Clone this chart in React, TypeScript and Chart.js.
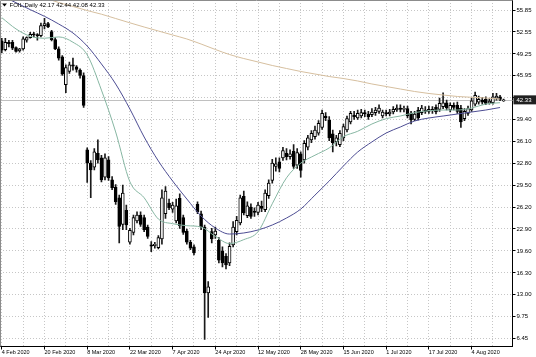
import React, { useEffect, useRef } from 'react';
import { Chart, registerables } from 'chart.js';

Chart.register(...registerables);

// ---------- data ----------
const SYMBOL = 'FOIL,Daily';
const SLOT_COUNT = 144; // bar slots across the plot (last few are empty)
const LABEL_EVERY = 12;
const GRID_EVERY = 6;
const dateLabels = [
  '4 Feb 2020', '20 Feb 2020', '8 Mar 2020', '22 Mar 2020', '7 Apr 2020', '24 Apr 2020',
  '12 May 2020', '28 May 2020', '15 Jun 2020', '1 Jul 2020', '17 Jul 2020', '4 Aug 2020',
];

const opens = [
  51.2, 49.9, 51.0, 51.0, 50.2, 49.7, 50.0, 51.3, 51.7, 52.2, 52.1, 52.0, 53.5, 53.8, 52.6, 51.4, 50.0, 48.8, 44.6, 46.6,
  47.6, 47.3, 46.8, 46.0, 34.8, 32.8, 32.2, 34.3, 33.6, 30.7, 33.3, 30.3, 29.2, 27.6, 23.6, 25.7, 20.9, 22.4, 24.1, 25.0,
  24.6, 23.2, 20.5, 20.4, 20.1, 21.4, 25.2, 26.8, 25.9, 24.1, 27.5, 24.6, 22.6, 20.9, 20.2, 26.6, 25.2, 23.2, 13.3, 22.5,
  22.0, 21.2, 19.6, 18.8, 17.8, 20.5, 22.5, 23.8, 27.8, 24.9, 26.2, 25.6, 25.4, 26.3, 25.8, 27.9, 30.2, 32.3, 33.0, 33.6,
  34.3, 33.8, 34.6, 32.5, 34.2, 33.3, 35.2, 36.3, 36.8, 37.3, 38.2, 39.9, 39.3, 37.2, 36.0, 35.6, 36.6, 37.8, 39.0, 40.0,
  39.6, 39.9, 40.4, 40.2, 40.1, 40.4, 40.6, 39.9, 40.4, 40.2, 40.5, 40.8, 41.1, 40.9, 41.0, 40.3, 39.4, 40.8, 40.4, 40.8,
  40.6, 40.9, 41.2, 40.9, 41.3, 41.9, 40.8, 41.5, 41.5, 41.1, 39.5, 40.3, 40.8, 41.7, 42.0, 42.3, 42.4, 41.9, 41.9, 42.6,
  42.8, 42.17,
];
const highs = [
  51.6, 51.6, 51.3, 51.3, 50.3, 50.1, 51.8, 51.8, 52.5, 52.5, 52.3, 53.9, 54.6, 54.0, 52.8, 51.7, 50.3, 49.0, 47.6, 48.0,
  48.6, 47.5, 47.0, 46.4, 35.1, 33.2, 35.0, 36.3, 34.0, 34.2, 33.8, 30.8, 29.6, 28.0, 29.5, 26.5, 23.0, 25.0, 25.5, 25.5,
  25.0, 23.5, 21.0, 20.9, 21.9, 28.8, 29.3, 27.4, 26.9, 27.4, 28.2, 25.0, 22.9, 21.2, 20.5, 27.0, 25.6, 23.5, 15.0, 23.0,
  23.2, 21.6, 20.2, 19.2, 20.8, 24.0, 24.8, 28.0, 28.6, 27.0, 26.7, 26.1, 26.9, 27.1, 28.8, 30.3, 33.4, 33.6, 33.6, 35.2,
  35.0, 34.8, 35.6, 35.0, 34.5, 36.2, 37.0, 37.7, 38.4, 39.2, 40.8, 40.4, 39.8, 37.8, 37.0, 37.7, 38.7, 39.9, 40.6, 40.6,
  40.8, 40.9, 40.8, 40.6, 41.0, 41.2, 41.6, 40.8, 40.8, 40.9, 41.3, 41.6, 41.6, 41.4, 41.4, 40.6, 40.6, 41.2, 41.5, 41.3,
  41.4, 41.3, 41.6, 42.6, 43.4, 42.3, 41.9, 41.9, 42.0, 41.5, 41.0, 41.4, 42.6, 43.5, 42.9, 42.7, 42.8, 42.5, 43.3, 43.3,
  43.0, 42.44,
];
const lows = [
  49.4, 49.7, 50.3, 49.9, 49.5, 49.5, 49.8, 51.0, 51.6, 51.8, 51.3, 51.8, 53.0, 53.2, 51.2, 49.9, 48.3, 46.0, 43.4, 46.3,
  46.8, 46.5, 45.6, 41.2, 29.9, 27.6, 31.8, 32.8, 30.0, 30.3, 30.2, 28.8, 26.6, 20.8, 22.8, 22.8, 20.6, 22.0, 23.8, 23.3,
  22.5, 21.5, 19.5, 20.0, 19.9, 20.6, 24.5, 25.8, 25.4, 23.8, 23.0, 22.1, 20.6, 19.8, 19.0, 25.2, 22.8, 6.3, 9.6, 20.8,
  21.5, 17.8, 17.2, 16.9, 17.4, 20.2, 22.0, 23.5, 25.0, 24.6, 24.5, 24.8, 25.0, 25.5, 25.5, 27.5, 29.8, 31.6, 31.5, 33.2,
  33.3, 33.4, 32.0, 32.0, 30.7, 32.8, 34.8, 35.9, 36.4, 37.0, 37.9, 39.2, 36.2, 34.5, 35.4, 35.3, 36.2, 37.5, 38.7, 39.4,
  39.4, 39.6, 39.8, 39.4, 39.8, 40.0, 40.3, 39.6, 39.9, 39.9, 40.2, 40.6, 40.5, 40.5, 39.6, 38.7, 39.2, 39.3, 40.1, 40.3,
  40.3, 40.3, 40.2, 40.6, 41.0, 40.8, 40.5, 40.8, 40.3, 38.2, 39.2, 40.0, 40.6, 41.4, 41.7, 41.7, 41.6, 41.7, 41.7, 42.3,
  42.2, 42.08,
];
const closes = [
  49.8, 51.0, 50.8, 50.1, 49.6, 50.0, 51.5, 51.7, 52.2, 52.1, 52.0, 53.5, 53.8, 53.3, 51.4, 50.0, 48.6, 46.2, 47.2, 47.6,
  47.4, 46.9, 46.0, 41.5, 32.8, 31.8, 34.5, 33.3, 30.3, 33.6, 30.6, 29.1, 27.0, 23.3, 28.3, 23.5, 22.7, 24.6, 25.0, 23.6,
  22.8, 21.8, 20.3, 20.6, 21.6, 27.6, 28.6, 26.1, 26.5, 26.4, 23.4, 22.4, 20.9, 20.0, 19.3, 25.5, 23.2, 13.3, 14.2, 21.4,
  22.6, 18.2, 17.8, 17.5, 20.3, 23.2, 24.2, 27.6, 25.3, 26.4, 24.8, 25.4, 26.5, 26.0, 28.3, 29.8, 32.8, 32.7, 32.0, 34.7,
  33.8, 34.2, 32.3, 34.4, 31.7, 35.8, 36.6, 37.3, 37.8, 38.8, 40.3, 39.6, 36.6, 35.9, 36.6, 37.3, 38.3, 39.5, 40.3, 39.8,
  40.3, 40.4, 40.2, 39.8, 40.5, 40.8, 41.1, 40.5, 40.2, 40.5, 40.9, 41.1, 40.9, 41.0, 39.9, 39.3, 40.2, 39.6, 41.1, 40.6,
  40.9, 40.7, 40.5, 41.8, 41.9, 41.1, 41.5, 41.2, 40.6, 39.0, 40.6, 41.0, 42.2, 43.0, 42.4, 42.0, 41.8, 42.1, 42.8, 42.9,
  42.4, 42.33,
];

// moving averages, read every MA_STEP bars starting at bar 0
const MA_STEP = 4;
const maFast = [
  54.7, 53.0, 51.9, 51.6, 51.8, 51.0, 49.1, 43.8, 37.5, 30.0, 27.6, 24.4, 23.7, 23.4, 23.2, 21.8, 20.7, 21.3,
  22.5, 26.7, 30.6, 32.8, 34.0, 35.1, 36.8, 37.6, 38.7, 39.5, 39.9, 40.4, 40.7, 40.8, 40.8, 41.1, 41.7, 41.9,
];
const maMid = [
  57.96, 56.95, 55.9, 54.9, 53.74, 52.39, 50.43, 47.73, 44.72, 40.95, 36.74, 33.13, 30.12, 27.41, 24.85, 23.05, 22.14, 22.3,
  22.75, 23.5, 24.55, 25.9, 28.0, 30.12, 32.38, 34.48, 36.0, 37.34, 38.25, 39.15, 39.6, 39.9, 40.2, 40.5, 40.8, 41.18,
];
const maSlow = [
  59.6, 58.93, 58.26, 57.66, 56.98, 56.38, 55.77, 55.22, 54.57, 53.92, 53.29, 52.69, 52.09, 51.49, 50.73, 49.91, 49.15, 48.55,
  48.03, 47.5, 47.05, 46.6, 46.22, 45.84, 45.54, 45.17, 44.72, 44.34, 43.96, 43.59, 43.29, 43.06, 42.84, 42.72, 42.61, 42.46,
];

const yTickValues = [6.45, 9.75, 13.0, 16.3, 19.6, 22.9, 26.2, 29.5, 32.8, 36.1, 39.4, 42.65, 45.95, 49.25, 52.55, 55.85];
const yTickLabels = ['6.45', '9.75', '13.00', '16.30', '19.60', '22.90', '26.20', '29.50', '32.80', '36.10', '39.40', '', '45.95', '49.25', '52.55', '55.85'];
const Y_MIN = 5.22;
const Y_MAX = 57.355;

const FONT = 'Liberation Sans';
const GRID_COLOR = '#c6c6c6';

export default function App() {
  const ref = useRef<HTMLCanvasElement>(null);

  useEffect(() => {
    const canvas = ref.current;
    if (!canvas) return;
    const n = closes.length;
    const last = n - 1;
    const labels = Array.from({ length: SLOT_COUNT }, (_, i) => String(i));
    const spread = (vals: number[]) => {
      const arr: (number | null)[] = new Array(n).fill(null);
      vals.forEach((v, k) => { if (k * MA_STEP < n) arr[k * MA_STEP] = v; });
      return arr;
    };

    const overlay = {
      id: 'overlay',
      beforeDatasetsDraw(chart: any) {
        const { ctx, chartArea: a, scales } = chart;
        const py = Math.round(scales.y.getPixelForValue(closes[last])) + 0.5;
        ctx.save();
        ctx.strokeStyle = '#c0c0c0';
        ctx.lineWidth = 1;
        ctx.beginPath();
        ctx.moveTo(a.left, py);
        ctx.lineTo(a.right, py);
        ctx.stroke();
        ctx.restore();
      },
      afterDraw(chart: any) {
        const { ctx, chartArea: a, scales } = chart;
        ctx.save();
        ctx.strokeStyle = '#8c8c8c';
        ctx.lineWidth = 1;
        ctx.beginPath();
        ctx.moveTo(0.5, a.bottom);
        ctx.lineTo(0.5, 0.5);
        ctx.lineTo(a.right, 0.5);
        ctx.stroke();

        const py = scales.y.getPixelForValue(closes[last]);
        ctx.fillStyle = '#202020';
        ctx.fillRect(a.right + 1, py - 4.5, chart.width - a.right - 1, 9);
        ctx.fillStyle = '#ffffff';
        ctx.font = `6px "${FONT}"`;
        ctx.textBaseline = 'middle';
        ctx.textAlign = 'left';
        ctx.fillText(closes[last].toFixed(2), a.right + 4, py + 0.5);

        ctx.fillStyle = '#000000';
        ctx.beginPath();
        ctx.moveTo(2, 3.5);
        ctx.lineTo(7, 3.5);
        ctx.lineTo(4.5, 6.5);
        ctx.closePath();
        ctx.fill();
        ctx.font = `6px "${FONT}"`;
        ctx.fillText(
          `${SYMBOL} ${opens[last].toFixed(2)} ${highs[last].toFixed(2)} ${lows[last].toFixed(2)} ${closes[last].toFixed(2)}`,
          9.5, 5.5,
        );
        ctx.restore();
      },
    };

    const chart = new Chart(canvas, {
      type: 'bar',
      data: {
        labels,
        datasets: [
          {
            type: 'line',
            data: spread(maFast),
            borderColor: '#86b6a2',
            borderWidth: 1,
            pointRadius: 0,
            spanGaps: true,
            cubicInterpolationMode: 'monotone',
            order: 0,
          } as any,
          {
            type: 'line',
            data: spread(maMid),
            borderColor: '#4d4d93',
            borderWidth: 1,
            pointRadius: 0,
            spanGaps: true,
            cubicInterpolationMode: 'monotone',
            order: 0,
          } as any,
          {
            type: 'line',
            data: spread(maSlow),
            borderColor: '#d6bf9f',
            borderWidth: 1,
            pointRadius: 0,
            spanGaps: true,
            cubicInterpolationMode: 'monotone',
            order: 0,
          } as any,
          {
            type: 'bar',
            data: closes.map((c, i) => [opens[i], c]),
            backgroundColor: closes.map((c, i) => (c >= opens[i] ? '#ffffff' : '#000000')),
            borderColor: '#000000',
            borderWidth: 1,
            borderSkipped: false,
            barThickness: 3,
            minBarLength: 1,
            grouped: false,
            order: 2,
          } as any,
          {
            type: 'bar',
            data: closes.map((_, i) => [lows[i], highs[i]]),
            backgroundColor: '#1a1a1a',
            borderWidth: 0,
            barThickness: 1,
            grouped: false,
            order: 3,
          } as any,
        ],
      },
      options: {
        animation: false,
        responsive: false,
        maintainAspectRatio: false,
        layout: { padding: 0 },
        plugins: { legend: { display: false }, tooltip: { enabled: false }, title: { display: false } },
        events: [],
        scales: {
          x: {
            type: 'category',
            offset: true,
            grid: {
              offset: false,
              drawTicks: true,
              tickLength: 3,
              color: (c: any) => (c.index % GRID_EVERY === 0 ? GRID_COLOR : 'rgba(0,0,0,0)'),
              tickColor: (c: any) => (c.index % LABEL_EVERY === 0 ? '#000000' : 'rgba(0,0,0,0)'),
            },
            border: { display: true, color: '#000000', width: 1, dash: [1, 2] },
            ticks: {
              autoSkip: false,
              maxRotation: 0,
              minRotation: 0,
              align: 'start',
              padding: 0,
              color: '#000000',
              font: { family: FONT, size: 5.5 },
              callback: (_v: any, i: number) => (i % LABEL_EVERY === 0 ? (dateLabels[i / LABEL_EVERY] ?? '') : ''),
            },
            afterFit: (s: any) => {
              s.height = 10.5;
              s.paddingLeft = 0;
              s.paddingRight = 0;
            },
          },
          y: {
            position: 'right',
            min: Y_MIN,
            max: Y_MAX,
            afterBuildTicks: (s: any) => {
              s.ticks = yTickValues.map((v) => ({ value: v }));
            },
            grid: { color: GRID_COLOR, drawTicks: true, tickLength: 3, tickColor: '#000000' },
            border: { display: true, color: '#000000', width: 1, dash: [1, 2] },
            ticks: {
              padding: 1,
              color: '#000000',
              font: { family: FONT, size: 6 },
              callback: (_v: any, i: number) => yTickLabels[i] ?? '',
            },
            afterFit: (s: any) => {
              s.width = 23.5;
              s.paddingTop = 0;
              s.paddingBottom = 0;
            },
          },
        },
      } as any,
      plugins: [overlay as any],
    });

    return () => chart.destroy();
  }, []);

  return (
    <div style={{ position: 'fixed', left: 0, top: 0, width: 536, height: 357, background: '#ffffff' }}>
      <canvas ref={ref} width={536} height={357} style={{ display: 'block', width: 536, height: 357 }} />
    </div>
  );
}
